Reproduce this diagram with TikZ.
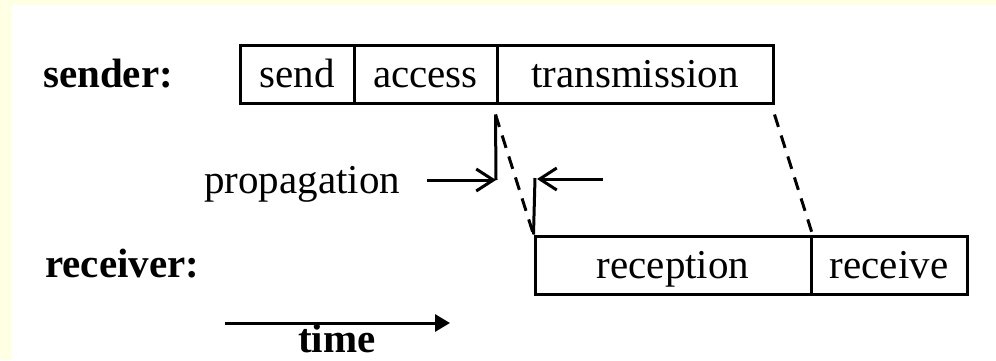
\documentclass[tikz,border=0pt]{standalone}
\usepackage{fontspec}
\setmainfont{Liberation Serif}
\usetikzlibrary{arrows.meta,calc}
\definecolor{paleyellow}{RGB}{255,255,228}
\begin{document}
\begin{tikzpicture}[x=1pt,y=-1pt,
  every node/.style={font=\fontsize{41}{45}\selectfont},
  phase/.style={draw, line width=3pt, rectangle, inner sep=0pt,
    minimum height=58pt, text height=30pt, text depth=4pt},
  role/.style={anchor=base west, inner sep=0pt, font=\fontsize{41}{45}\selectfont\bfseries},
  delay/.style={line width=3pt, dash pattern=on 13pt off 9pt},
  solid line/.style={line width=3pt},
  propagate/.style={line width=3pt, -{Straight Barb[length=17pt,width=22pt]}},
  timeline/.style={line width=3pt, -{Triangle[length=15pt,width=17pt]}}]

% page and margin strips
\useasboundingbox (0,0) rectangle (996,360);
\fill[white] (0,0) rectangle (996,360);
\fill[paleyellow] (0,0) rectangle (12,360);
\fill[paleyellow] (0,0) rectangle (996,5);

% sender phases
\node[role] (sender) at (43,87) {sender:};
\node[phase, minimum width=114pt] (send) at (297,74) {send};
\node[phase, minimum width=143pt] (access) at (425.5,74) {access};
\node[phase, minimum width=276pt] (transmission) at (635,74) {transmission};

% receiver phases
\node[role] (receiver) at (45,277) {receiver:};
\node[phase, minimum width=276pt] (reception) at (673,265) {reception};
\node[phase, minimum width=156pt] (receive) at (889,265) {receive};

% signal travelling from sender to receiver
\coordinate (txstart) at ($(transmission.south west)+(0,10)$);
\coordinate (txend) at ($(transmission.south east)+(0,10)$);
\draw[delay] (txstart) -- (reception.north west);
\draw[delay] (txend) -- (reception.north east);

% propagation delay markers
\coordinate (markA) at (496,180);
\coordinate (markB) at (535,178);
\draw[solid line] (txstart) -- (markA);
\draw[solid line] (reception.north west) -- (markB);
\node[anchor=base west, inner sep=0pt] (propagation) at (204,193) {propagation};
\coordinate (fromA) at (427,180);
\coordinate (fromB) at (603,179);
\coordinate (tipB) at (537,179);
\draw[propagate] (fromA) -- (markA);
\draw[propagate] (fromB) -- (tipB);

% time axis
\coordinate (t0) at (225,323);
\coordinate (t1) at (450,323);
\draw[timeline] (t0) -- (t1);
\node[anchor=base, inner sep=0pt, font=\fontsize{41}{45}\selectfont\bfseries] (time) at (337,352) {time};
\end{tikzpicture}
\end{document}
